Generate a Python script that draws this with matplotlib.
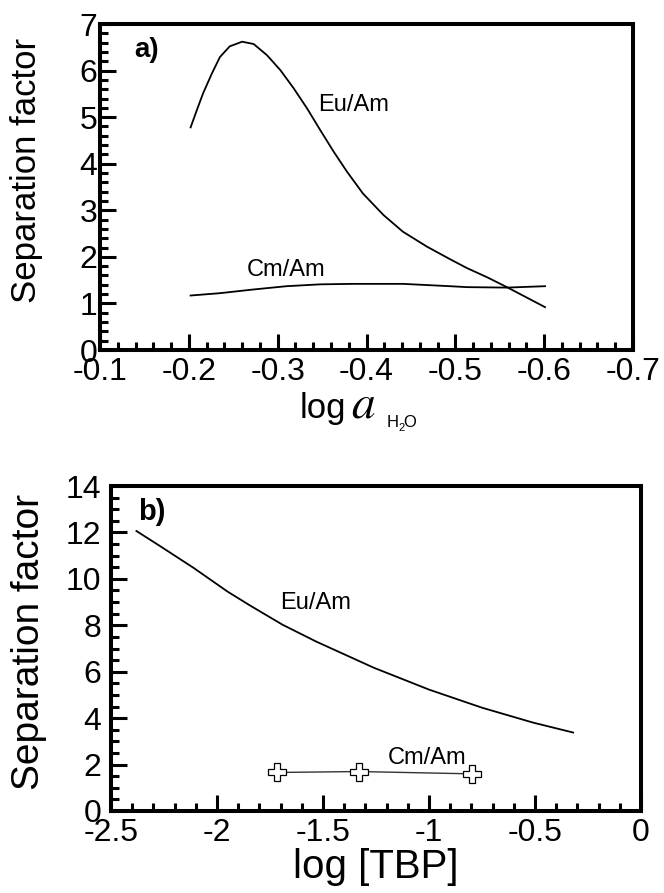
import matplotlib
matplotlib.use('Agg')
import matplotlib.pyplot as plt
from matplotlib.ticker import MultipleLocator

plt.rcParams['font.family'] = ['Liberation Sans', 'DejaVu Sans']

# a) 分離係数 vs log a(H2O)
a_eu_x = [-0.202, -0.209, -0.216, -0.226, -0.235, -0.246, -0.260, -0.273, -0.288,
          -0.303, -0.318, -0.333, -0.348, -0.363, -0.378, -0.396, -0.419, -0.441,
          -0.468, -0.494, -0.513, -0.536, -0.558, -0.601]
a_eu_y = [4.78, 5.15, 5.51, 5.94, 6.29, 6.52, 6.62, 6.57, 6.33,
          6.01, 5.62, 5.19, 4.72, 4.26, 3.83, 3.36, 2.90, 2.54,
          2.22, 1.95, 1.76, 1.56, 1.35, 0.92]
a_cm_x = [-0.202, -0.235, -0.273, -0.310, -0.348, -0.385, -0.441, -0.494, -0.513, -0.558, -0.601]
a_cm_y = [1.17, 1.22, 1.30, 1.37, 1.41, 1.42, 1.42, 1.37, 1.35, 1.34, 1.37]

# b) 分離係数 vs log [TBP]
b_eu_x = [-2.38, -2.27, -2.11, -1.95, -1.84, -1.69, -1.53, -1.26, -1.00, -0.75, -0.51, -0.32]
b_eu_y = [12.06, 11.42, 10.47, 9.45, 8.83, 8.02, 7.29, 6.17, 5.23, 4.45, 3.81, 3.38]
b_cm_x = [-1.717, -1.330, -0.797]
b_cm_y = [1.66, 1.70, 1.60]

W, H = 664, 893


def style_axes(ax, ypad):
    for side in ['left', 'right', 'top', 'bottom']:
        ax.spines[side].set_linewidth(2.9)
    ax.tick_params(which='both', direction='in', top=False, right=False, labelsize=23)
    ax.tick_params(axis='x', pad=5)
    ax.tick_params(axis='y', pad=ypad)
    ax.tick_params(which='major', length=11.5, width=2.2)
    ax.tick_params(which='minor', length=6, width=2.2)


def main():
    fig = plt.figure(figsize=(W / 100, H / 100), dpi=100)

    # 上のパネル
    ax1 = fig.add_axes([100 / W, 1 - 350 / H, 533 / W, 326 / H])
    ax1.plot(a_eu_x, a_eu_y, color='black', lw=1.3)
    ax1.plot(a_cm_x, a_cm_y, color='black', lw=1.3)
    ax1.set_xlim(-0.1, -0.7)
    ax1.set_ylim(0, 7)
    ax1.xaxis.set_major_locator(MultipleLocator(0.1))
    ax1.xaxis.set_minor_locator(MultipleLocator(0.02))
    ax1.yaxis.set_major_locator(MultipleLocator(1))
    ax1.yaxis.set_minor_locator(MultipleLocator(0.2))
    ax1.xaxis.set_major_formatter(plt.FuncFormatter(lambda v, p: f'{v:.1f}'))
    style_axes(ax1, 2)
    ax1.set_ylabel('Separation factor', fontsize=25)
    ax1.yaxis.set_label_coords(-0.107, 0.552)
    ax1.text(-0.152, 6.44, 'a)', fontsize=20, fontweight='bold', ha='center', va='center')
    ax1.text(-0.345, 5.26, 'Eu/Am', fontsize=17, ha='left', va='center')
    ax1.text(-0.2655, 1.72, 'Cm/Am', fontsize=17, ha='left', va='center')

    # x軸ラベル log a_H2O（aだけ斜体のセリフ体）
    fig.text(300 / W, 1 - 418 / H, 'log', fontsize=25, ha='left', va='baseline')
    fig.text(351 / W, 1 - 418 / H, r'$a$', fontsize=34, math_fontfamily='stix',
             ha='left', va='baseline')
    fig.text(387 / W, 1 - 427 / H, 'H', fontsize=12, ha='left', va='baseline')
    fig.text(398 / W, 1 - 431 / H, '2', fontsize=8, ha='left', va='baseline')
    fig.text(403 / W, 1 - 427 / H, 'O', fontsize=12, ha='left', va='baseline')

    # 下のパネル
    ax2 = fig.add_axes([111 / W, 1 - 811 / H, 530 / W, 325 / H])
    ax2.plot(b_eu_x, b_eu_y, color='black', lw=1.3)
    ax2.plot(b_cm_x, b_cm_y, color='#333333', lw=1.0, marker='P', markersize=13,
             markerfacecolor='white', markeredgecolor='black', markeredgewidth=0.9)
    ax2.set_xlim(-2.5, 0)
    ax2.set_ylim(0, 14)
    ax2.xaxis.set_major_locator(MultipleLocator(0.5))
    ax2.xaxis.set_minor_locator(MultipleLocator(0.1))
    ax2.yaxis.set_major_locator(MultipleLocator(2))
    ax2.yaxis.set_minor_locator(MultipleLocator(0.5))
    ax2.xaxis.set_major_formatter(plt.FuncFormatter(lambda v, p: f'{v:g}'))
    style_axes(ax2, 7)
    ax2.set_ylabel('Separation factor', fontsize=28)
    ax2.yaxis.set_label_coords(-0.12, 0.52)
    ax2.set_xlabel('log [TBP]', fontsize=29, labelpad=0)
    ax2.text(-2.307, 12.88, 'b)', fontsize=21, fontweight='bold', ha='center', va='center')
    ax2.text(-1.703, 8.97, 'Eu/Am', fontsize=17, ha='left', va='center')
    ax2.text(-1.193, 2.30, 'Cm/Am', fontsize=17, ha='left', va='center')

    fig.savefig('out.png', dpi=100)


if __name__ == '__main__':
    main()
